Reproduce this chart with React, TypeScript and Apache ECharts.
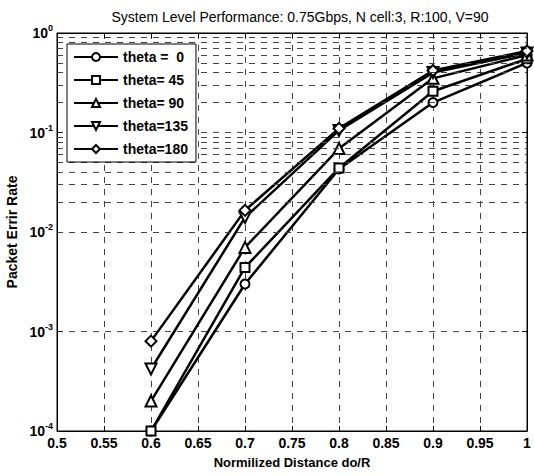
import React, { useEffect, useRef } from "react";
import * as echarts from "echarts";

const xValues = [0.6, 0.7, 0.8, 0.9, 1.0];
const seriesNames = ["theta =  0", "theta= 45", "theta= 90", "theta=135", "theta=180"];
const theta0 = [1e-4, 0.0030, 0.043, 0.20, 0.50];
const theta45 = [1e-4, 0.0044, 0.044, 0.26, 0.55];
const theta90 = [2.0e-4, 0.0070, 0.069, 0.35, 0.60];
const theta135 = [4.2e-4, 0.014, 0.105, 0.40, 0.63];
const theta180 = [8.0e-4, 0.0165, 0.11, 0.42, 0.66];
const minorGridValues = [
  2e-4, 3e-4, 4e-4, 5e-4, 6e-4, 7e-4, 8e-4, 9e-4,
  2e-3, 3e-3, 4e-3, 5e-3, 6e-3, 7e-3, 8e-3, 9e-3,
  2e-2, 3e-2, 4e-2, 5e-2, 6e-2, 7e-2, 8e-2, 9e-2,
  2e-1, 3e-1, 4e-1, 5e-1, 6e-1, 7e-1, 8e-1, 9e-1,
];

const FONT = "'Liberation Sans', Arial, Helvetica, sans-serif";
const symbols = [
  "circle",
  "rect",
  "triangle",
  "path://M0,0 L10,0 L5,10 Z",
  "diamond",
];
const symbolSizes = [9, 9, 11, 11, 11];

export default function App() {
  const ref = useRef<HTMLDivElement>(null);
  useEffect(() => {
    if (!ref.current) return;
    const chart = echarts.init(ref.current, null, { renderer: "svg" });
    const allData = [theta0, theta45, theta90, theta135, theta180];
    const gridLine = { type: [6, 6] as number[], color: "#444", width: 1 };
    const series: any[] = [
      {
        name: "__grid",
        type: "line",
        data: [],
        silent: true,
        z: 1,
        markLine: {
          silent: true,
          symbol: "none",
          label: { show: false },
          lineStyle: gridLine,
          emphasis: { disabled: true },
          data: minorGridValues.map((v) => ({ yAxis: v })),
        },
      },
    ];
    allData.forEach((arr, i) => {
      series.push({
        name: seriesNames[i],
        type: "line",
        z: 3,
        data: xValues.map((x, j) => [x, arr[j]]),
        symbol: symbols[i],
        symbolSize: symbolSizes[i],
        showAllSymbol: true,
        lineStyle: { color: "#000", width: 2.5 },
        itemStyle: { color: "#fff", borderColor: "#000", borderWidth: 2 },
        emphasis: { disabled: true },
      });
    });
    chart.setOption({
      animation: false,
      backgroundColor: "#fff",
      title: {
        text: "System Level Performance: 0.75Gbps, N cell:3, R:100, V=90",
        left: 295,
        textAlign: "center",
        top: 5,
        textStyle: { fontFamily: FONT, fontSize: 14, fontWeight: "normal", color: "#000" },
      },
      legend: {
        data: seriesNames,
        orient: "vertical",
        left: 67,
        top: 44,
        itemWidth: 44,
        itemHeight: 10,
        itemGap: 9,
        padding: [6, 8, 6, 6],
        borderColor: "#000",
        borderWidth: 1,
        backgroundColor: "#fff",
        textStyle: { fontFamily: FONT, fontSize: 14, fontWeight: "bold", color: "#000" },
        selectedMode: false,
        z: 10,
      },
      grid: {
        left: 57,
        right: 7,
        top: 33,
        bottom: 44,
        show: true,
        borderColor: "#000",
        borderWidth: 1,
        outerBoundsMode: "none",
        containLabel: false,
      },
      xAxis: [
        {
          type: "value",
          min: 0.5,
          max: 1,
          interval: 0.05,
          name: "Normilized Distance do/R",
          nameLocation: "middle",
          nameGap: 25,
          nameTextStyle: { fontFamily: FONT, fontSize: 13, fontWeight: "bold", color: "#000" },
          axisLine: { lineStyle: { color: "#000", width: 1 } },
          axisTick: { inside: true, length: 5, lineStyle: { color: "#000" } },
          axisLabel: {
            fontFamily: FONT,
            fontSize: 14,
            fontWeight: "bold",
            color: "#000",
            margin: 5,
            formatter: (v: number) => String(+v.toFixed(2)),
          },
          splitLine: { show: true, lineStyle: gridLine },
        },
        {
          type: "value",
          position: "top",
          min: 0.5,
          max: 1,
          interval: 0.05,
          axisLine: { lineStyle: { color: "#000", width: 1 } },
          axisTick: { inside: true, length: 5, lineStyle: { color: "#000" } },
          axisLabel: { show: false },
          splitLine: { show: false },
        },
      ],
      yAxis: [
        {
          type: "log",
          logBase: 10,
          min: 1e-4,
          max: 1,
          name: "Packet Errir Rate",
          nameLocation: "middle",
          nameGap: 36,
          nameTextStyle: { fontFamily: FONT, fontSize: 14, fontWeight: "bold", color: "#000" },
          axisLine: { lineStyle: { color: "#000", width: 1 } },
          axisTick: { inside: true, length: 5, lineStyle: { color: "#000" } },
          axisLabel: {
            color: "#000",
            margin: 4,
            formatter: (v: number) => {
              const e = Math.round(Math.log10(v));
              return `{b|10}{s|${e}}`;
            },
            rich: {
              b: { fontFamily: FONT, fontSize: 14, fontWeight: "bold", color: "#000" },
              s: { fontFamily: FONT, fontSize: 9, fontWeight: "bold", color: "#000", padding: [0, 0, 10, 0] },
            },
          },
          splitLine: { show: true, lineStyle: gridLine },
        },
        {
          type: "log",
          logBase: 10,
          min: 1e-4,
          max: 1,
          position: "right",
          axisLine: { lineStyle: { color: "#000", width: 1 } },
          axisTick: { inside: true, length: 5, lineStyle: { color: "#000" } },
          axisLabel: { show: false },
          splitLine: { show: false },
        },
      ],
      series,
    });
    return () => chart.dispose();
  }, []);
  return (
    <div
      ref={ref}
      style={{ position: "absolute", left: 0, top: 0, width: 534, height: 475 }}
    />
  );
}
